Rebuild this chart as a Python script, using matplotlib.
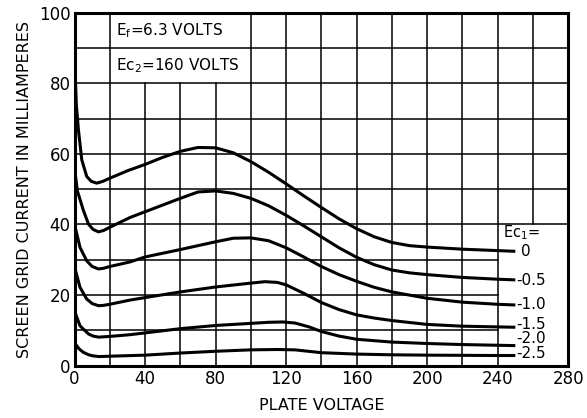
import matplotlib.pyplot as plt

# plate voltage points and screen grid current in mA
x_0 = [0, 1, 2.2, 4.1, 6.9, 9.5, 12.6, 16, 20, 30, 40, 50, 60, 70, 80, 90, 100, 110, 120, 130, 140, 150, 160, 170, 180, 190, 200, 220, 240, 250]
y_0 = [88, 74, 66.8, 58.3, 53.6, 52.2, 51.7, 52.2, 53.1, 55.2, 57.0, 59.0, 60.7, 61.8, 61.7, 60.3, 57.8, 54.8, 51.5, 48.1, 44.8, 41.6, 38.8, 36.5, 34.9, 34.0, 33.6, 33.0, 32.6, 32.4]

x_05 = [0, 1.6, 5, 7.9, 10.5, 13.6, 16.5, 20, 31.6, 40, 50, 60, 70, 80, 90, 100, 110, 120, 130, 140, 150, 160, 170, 180, 190, 200, 220, 240, 250]
y_05 = [56, 49.5, 44, 40.1, 38.6, 37.9, 38.3, 39.2, 42.0, 43.6, 45.5, 47.4, 49.2, 49.5, 48.8, 47.4, 45.3, 42.6, 39.6, 36.5, 33.4, 30.7, 28.6, 27.1, 26.3, 25.8, 25.0, 24.5, 24.3]

x_10 = [0, 3.1, 6.9, 10, 13.6, 16.5, 20, 31.5, 40, 60, 70, 80, 90, 100, 110, 120, 130, 140, 150, 160, 170, 180, 200, 220, 240, 250]
y_10 = [40, 33.5, 29.7, 28.1, 27.4, 27.6, 28.1, 29.4, 30.8, 32.9, 34.0, 35.1, 36.1, 36.2, 35.4, 33.4, 30.8, 28.1, 25.8, 23.9, 22.2, 20.9, 19.1, 18.0, 17.4, 17.2]

x_15 = [0, 3.1, 6.9, 10, 13.6, 16.5, 20, 31.5, 40, 60, 80, 100, 108, 115, 120, 130, 140, 150, 160, 170, 180, 200, 220, 240, 250]
y_15 = [28, 22.2, 18.9, 17.6, 17.0, 17.1, 17.4, 18.6, 19.3, 20.9, 22.3, 23.4, 23.8, 23.6, 22.9, 20.5, 17.9, 15.9, 14.4, 13.5, 12.8, 11.7, 11.2, 11.0, 10.9]

x_20 = [0, 3.1, 7.9, 10.5, 13.6, 20, 31.5, 40, 60, 80, 100, 110, 118, 125, 133, 140, 150, 160, 180, 200, 220, 240, 250]
y_20 = [15.5, 11.3, 9.0, 8.4, 8.1, 8.3, 8.8, 9.3, 10.5, 11.4, 12.0, 12.3, 12.4, 12.1, 11.0, 9.7, 8.4, 7.5, 6.7, 6.3, 6.0, 5.8, 5.7]

x_25 = [0, 2.5, 5, 8, 10.4, 14, 20, 40, 60, 80, 100, 115, 125, 140, 160, 180, 200, 240, 250]
y_25 = [6.5, 4.8, 3.8, 3.1, 2.8, 2.6, 2.7, 3.0, 3.6, 4.1, 4.5, 4.6, 4.5, 3.7, 3.3, 3.1, 3.0, 2.9, 2.9]

curves = [(x_0, y_0), (x_05, y_05), (x_10, y_10), (x_15, y_15), (x_20, y_20), (x_25, y_25)]
curve_labels = ["0", "-0.5", "-1.0", "-1.5", "-2.0", "-2.5"]
label_y = [32.3, 24.0, 17.4, 11.6, 7.6, 3.5]

x_ticks = [0, 40, 80, 120, 160, 200, 240, 280]
y_ticks = [0, 20, 40, 60, 80, 100]

fig = plt.figure(figsize=(5.87, 4.18), dpi=100)
ax = fig.add_axes([0.127, 0.125, 0.841, 0.845])
ax.set_xlim(0, 280)
ax.set_ylim(0, 100)

# grid drawn by hand so the two text boxes stay clear
for gx in range(20, 280, 20):
    if gx in (40, 60, 80):
        ax.plot([gx, gx], [0, 80], color="black", lw=1.1, zorder=1)
    elif gx == 260:
        ax.plot([gx, gx], [40, 100], color="black", lw=1.1, zorder=1)
    else:
        ax.plot([gx, gx], [0, 100], color="black", lw=1.1, zorder=1)
for gy in range(10, 100, 10):
    if gy in (10, 20, 30):
        ax.plot([0, 240], [gy, gy], color="black", lw=1.1, zorder=1)
    else:
        ax.plot([0, 280], [gy, gy], color="black", lw=1.1, zorder=1)

for (xs, ys), lab, ly in zip(curves, curve_labels, label_y):
    ax.plot(xs, ys, color="black", lw=2.2, solid_capstyle="butt",
            solid_joinstyle="round", zorder=3)
    if lab == "0":
        ax.text(253.5, ly, lab, fontsize=11, va="center", ha="left")
    else:
        ax.text(250.5, ly, lab, fontsize=11, va="center", ha="left")

ax.text(243, 37.6, "Ec$_\\mathregular{1}$=", fontsize=10.5, va="center", ha="left")
ax.text(54, 95, "E$_\\mathregular{f}$=6.3 VOLTS", fontsize=11, va="center", ha="center")
ax.text(58.5, 85, "Ec$_\\mathregular{2}$=160 VOLTS", fontsize=11, va="center", ha="center")

ax.set_xticks(x_ticks)
ax.set_yticks(y_ticks)
ax.tick_params(length=0, labelsize=12, pad=3)
for s in ax.spines.values():
    s.set_linewidth(2.2)
ax.set_xlabel("PLATE VOLTAGE", fontsize=11.5, labelpad=7)
ax.set_ylabel("SCREEN GRID CURRENT IN MILLIAMPERES", fontsize=11.5, labelpad=5)

fig.savefig("out.png", dpi=100)
